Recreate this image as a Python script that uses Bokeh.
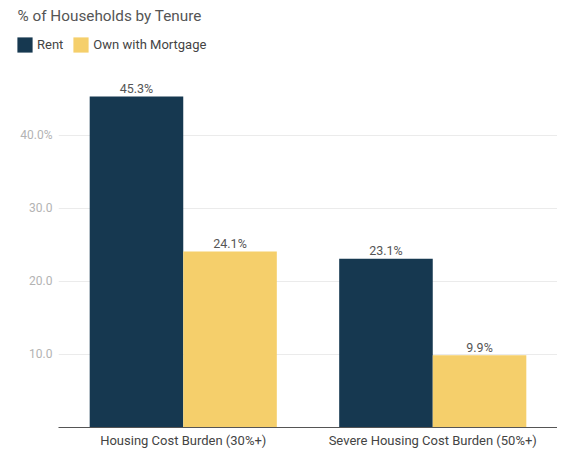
from bokeh.plotting import figure
from bokeh.layouts import column
from bokeh.models import ColumnDataSource, Legend, LegendItem, FixedTicker, Label
from bokeh.transform import dodge
from bokeh.core.properties import value
from bokeh.embed import file_html
from bokeh.resources import INLINE

categories = ["Housing Cost Burden (30%+)", "Severe Housing Cost Burden (50%+)"]
rent = [45.3, 23.1]
own = [24.1, 9.9]
series_names = ["Rent", "Own with Mortgage"]
y_ticks = [10, 20, 30, 40]
y_tick_labels = ["10.0", "20.0", "30.0", "40.0%"]
title_text = "% of Households by Tenure"

RENT_COLOR = "#163850"
OWN_COLOR = "#f5cf6b"
FONT = "Roboto"
W = 557
HEAD_H = 58

# ---------- header: title + legend ----------
head = figure(width=W, height=HEAD_H, x_range=(0, W), y_range=(HEAD_H, 0),
              x_axis_type=None, y_axis_type=None, title=None,
              output_backend="svg", toolbar_location=None,
              min_border_left=0, min_border_right=0, min_border_top=0, min_border_bottom=0)
if "frame_align" in head.properties():
    head.frame_align = False
head.outline_line_color = None
head.add_layout(Label(x=17, y=15, text=title_text, text_font=FONT, text_font_size="15.3px",
                      text_color="#555555", text_baseline="middle", text_align="left"))
# legend swatch renderers (zero-height, outside the visible range)
d1 = head.vbar(x=[-50], top=[0], width=1, color=RENT_COLOR, line_color=None)
d2 = head.vbar(x=[-50], top=[0], width=1, color=OWN_COLOR, line_color=None)
legend = Legend(items=[LegendItem(label=series_names[0], renderers=[d1]),
                       LegendItem(label=series_names[1], renderers=[d2])],
                location=(15, 3.8), orientation="horizontal",
                glyph_width=19, glyph_height=19, label_standoff=3, spacing=8,
                padding=0, margin=0, border_line_color=None, background_fill_alpha=0,
                label_text_font=FONT, label_text_font_size="13px",
                label_text_color="#444444", label_height=19)
head.add_layout(legend, "center")

# ---------- main chart ----------
src = ColumnDataSource(dict(
    cat=categories, rent=rent, own=own,
    rent_lbl=[f"{v}%" for v in rent], own_lbl=[f"{v}%" for v in own],
))

p = figure(x_range=categories, y_range=(0, 50.5), width=W, height=455 - HEAD_H, title=None,
           output_backend="svg", toolbar_location=None,
           min_border_left=58, min_border_right=0, min_border_top=0, min_border_bottom=28)
if "frame_align" in p.properties():
    p.frame_align = False
p.outline_line_color = None

bw = 0.375
p.vbar(x=dodge("cat", -bw / 2, range=p.x_range), top="rent", width=bw, source=src,
       color=RENT_COLOR, line_color=None)
p.vbar(x=dodge("cat", bw / 2, range=p.x_range), top="own", width=bw, source=src,
       color=OWN_COLOR, line_color=None)

for off, col in [(-bw / 2, "rent"), (bw / 2, "own")]:
    p.text(x=dodge("cat", off, range=p.x_range), y=col, text=col + "_lbl", source=src,
           text_align="center", text_baseline="alphabetic", y_offset=-8,
           text_font=value(FONT), text_font_size="12.5px", text_color="#555555")

p.xaxis.axis_line_color = "#555555"
p.xaxis.axis_line_width = 1
p.xaxis.major_tick_line_color = None
p.xaxis.minor_tick_line_color = None
p.xaxis.major_tick_out = 0
p.xaxis.major_tick_in = 0
p.xaxis.major_label_text_font = FONT
p.xaxis.major_label_text_font_size = "13px"
p.xaxis.major_label_text_color = "#444444"
p.xaxis.major_label_standoff = 5
p.xgrid.grid_line_color = None

p.yaxis.ticker = FixedTicker(ticks=y_ticks)
p.yaxis.major_label_overrides = {t: l for t, l in zip(y_ticks, y_tick_labels)}
p.yaxis.axis_line_color = None
p.yaxis.major_tick_line_color = None
p.yaxis.minor_tick_line_color = None
p.yaxis.major_tick_out = 0
p.yaxis.major_tick_in = 0
p.yaxis.major_label_text_font = FONT
p.yaxis.major_label_text_font_size = "12px"
p.yaxis.major_label_text_color = "#b3b3b3"
p.yaxis.major_label_standoff = 6
p.ygrid.grid_line_color = "#ebebeb"
p.ygrid.ticker = FixedTicker(ticks=y_ticks)

layout = column(head, p, spacing=0)
open("out.html", "w").write(file_html(layout, INLINE))
